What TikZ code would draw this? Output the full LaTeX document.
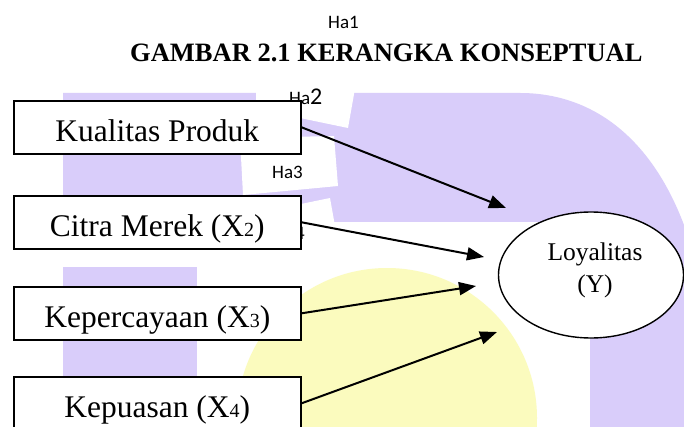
\documentclass[tikz,border=0pt]{standalone}
\usepackage{fontspec}
\setmainfont{Liberation Serif}
\newfontfamily\labelfont{Carlito}
\usetikzlibrary{arrows.meta,shapes.geometric}
\definecolor{lilac}{RGB}{217,205,250}
\definecolor{sunyellow}{RGB}{251,251,190}
% soft-edged yellow disc of the watermark
\pgfdeclareradialshading{sundisc}{\pgfpoint{0bp}{0bp}}{color(0bp)=(sunyellow); color(37bp)=(sunyellow); color(48bp)=(white); color(50bp)=(white)}
\newcommand\smalldigit[1]{{\fontsize{20}{20}\selectfont #1}}

\begin{document}
\begin{tikzpicture}[x=1pt,y=-1pt,
  varbox/.style={draw, line width=1.6pt, fill=white, rectangle, inner sep=0pt,
    minimum width=287pt, text height=40.5pt, text depth=12.5pt,
    font=\fontsize{31.5}{36}\selectfont, anchor=north west},
  link/.style={line width=2pt, -{Triangle[length=17pt,width=13pt]}},
  hyp/.style={font=\labelfont\fontsize{19}{22}\selectfont, inner sep=0pt},
  ytext/.style={font=\fontsize{25.5}{31}\selectfont, anchor=base, inner sep=0pt}]

\useasboundingbox (0,0) rectangle (684,427);
\fill[white] (0,0) rectangle (684,427);
\clip (0,0) rectangle (684,427);

% watermark: lilac arch, left column and yellow disc
\fill[lilac] (63,93) -- (520,93) .. controls (590,93) and (650,135) .. (684,225)
  -- (700,225) -- (700,440) -- (590,440) -- (590,250)
  .. controls (590,230) and (580,222) .. (555,222) -- (63,222) -- cycle;
\fill[lilac] (63,267) rectangle (197,440);
\shade[shading=sundisc] (387,418) circle (150);

% white label frames
\fill[white] (256,80) -- (356,83) -- (348,128) -- (300,118) -- (256,110) -- cycle;
\fill[white] (240,138) -- (334,136) -- (338,186) -- (243,195) -- cycle;
\fill[white] (296,205) -- (330,198) -- (335,226) -- (296,226) -- cycle;

% hypothesis labels
\node[hyp, anchor=base west] (ha1) at (328,29) {Ha1};
\node[hyp, anchor=base west] (ha2) at (289,105) {Ha{\fontsize{24}{26}\selectfont 2}};
\node[hyp, anchor=base west] (ha3) at (272,179) {Ha3};
\node[hyp, anchor=base east] (ha4) at (305,240) {Ha4};

% title
\node[anchor=base west, inner sep=0pt, font=\bfseries\fontsize{26.5}{30}\selectfont]
  (title) at (130,62) {GAMBAR 2.1 KERANGKA KONSEPTUAL};

% independent variables
\node[varbox] (x1) at (13,100) {Kualitas Produk};
\node[varbox] (x2) at (13,195) {Citra Merek (X\smalldigit{2})};
\node[varbox] (x3) at (13,286) {Kepercayaan (X\smalldigit{3})};
\node[varbox] (x4) at (13,376) {Kepuasan (X\smalldigit{4})};

% dependent variable
\node[draw, ellipse, line width=1.4pt, fill=white, minimum width=185pt,
  minimum height=126pt, inner sep=0pt] (y) at (591,275) {};
\node[ytext] (yname) at (595,261) {Loyalitas};
\node[ytext] (ysym) at (595,292) {(Y)};

% arrows
\coordinate (t1) at (506,208);
\coordinate (t2) at (484,257);
\coordinate (t3) at (476,286);
\coordinate (t4) at (497,332);
\draw[link] (x1.east) -- (t1);
\draw[link] (x2.east) -- (t2);
\draw[link] (x3.east) -- (t3);
\draw[link] (x4.east) -- (t4);
\end{tikzpicture}
\end{document}
